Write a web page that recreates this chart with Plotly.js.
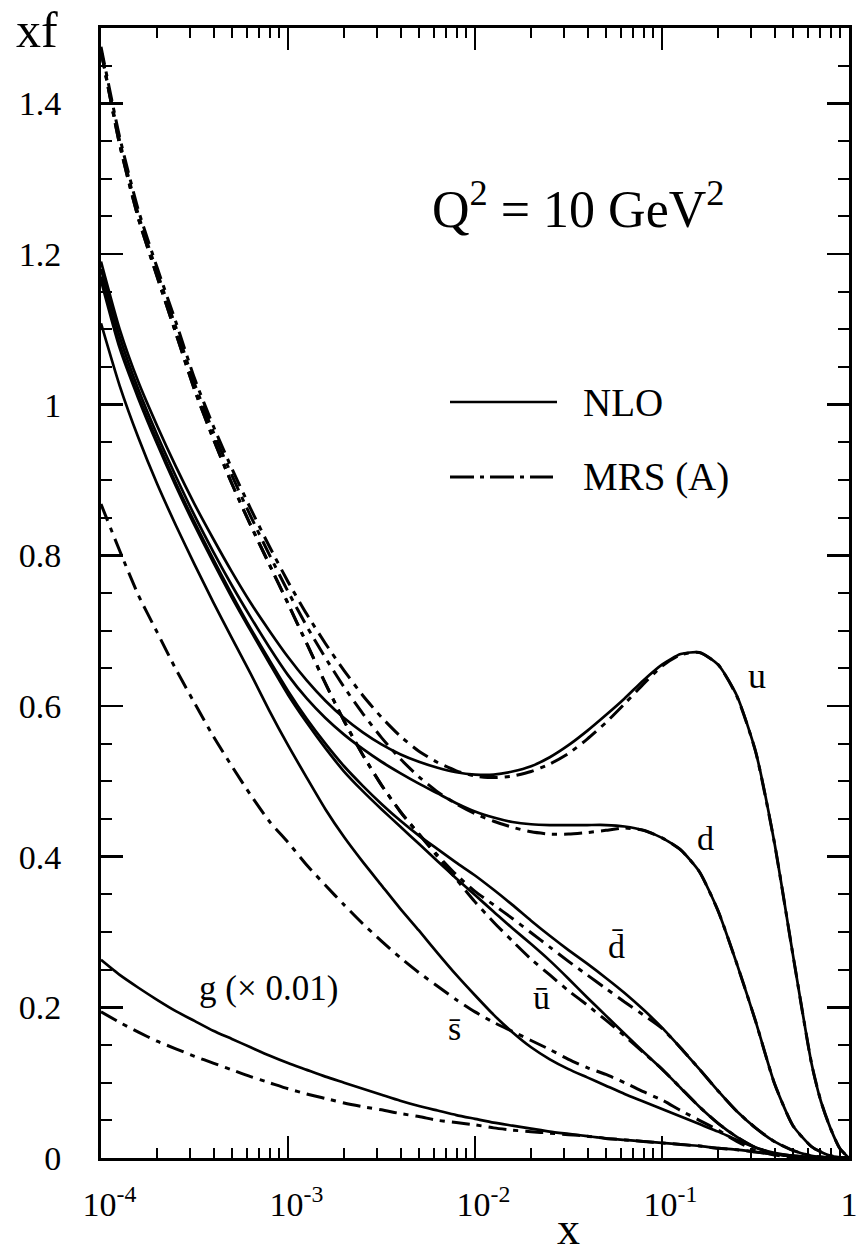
<!DOCTYPE html>
<html>
<head>
<meta charset="utf-8">
<script src="https://cdn.plot.ly/plotly-3.0.1.min.js"></script>
<style>html,body{margin:0;padding:0;background:#fff;}#chart{width:862px;height:1256px;}</style>
</head>
<body>
<div id="chart"></div>
<script>
// log10(x) grid shared by all curves
const LOG10_X = [-4,-3.9,-3.8,-3.7,-3.6,-3.5,-3.4,-3.3,-3.2,-3.1,-3.0,-2.9,-2.8,-2.7,-2.6,-2.5,-2.4,-2.3,-2.2,-2.1,-2.0,-1.9,-1.8,-1.7,-1.6,-1.5,-1.4,-1.3,-1.2,-1.1,-1.0,-0.9,-0.8,-0.7,-0.6,-0.5,-0.4,-0.3,-0.2,-0.15,-0.1,-0.05,0];

// NLO (solid)
const U_NLO    = [1.19,1.10,1.03,0.972,0.918,0.868,0.822,0.778,0.737,0.70,0.665,0.634,0.607,0.584,0.565,0.549,0.536,0.526,0.518,0.512,0.509,0.509,0.513,0.52,0.532,0.548,0.567,0.588,0.61,0.634,0.655,0.669,0.671,0.655,0.614,0.54,0.42,0.27,0.125,0.075,0.04,0.013,0];
const D_NLO    = [1.18,1.09,1.02,0.96,0.905,0.853,0.805,0.76,0.718,0.678,0.641,0.61,0.584,0.562,0.543,0.526,0.511,0.497,0.484,0.471,0.46,0.452,0.446,0.443,0.442,0.442,0.442,0.442,0.44,0.435,0.425,0.409,0.38,0.328,0.258,0.182,0.10,0.043,0.015,0.008,0.003,0.001,0];
const UBAR_NLO = [1.165,1.075,1.008,0.948,0.892,0.84,0.791,0.744,0.70,0.657,0.615,0.578,0.544,0.513,0.487,0.463,0.44,0.417,0.394,0.371,0.349,0.327,0.305,0.284,0.262,0.238,0.213,0.189,0.165,0.141,0.118,0.093,0.068,0.046,0.028,0.014,0.006,0.002,0.0005,0.0002,0,0,0];
const DBAR_NLO = [1.17,1.08,1.012,0.952,0.896,0.844,0.795,0.748,0.703,0.661,0.62,0.583,0.55,0.52,0.494,0.47,0.448,0.428,0.41,0.392,0.375,0.356,0.336,0.315,0.295,0.276,0.258,0.239,0.219,0.197,0.173,0.146,0.118,0.089,0.062,0.04,0.022,0.01,0.003,0.0015,0.0005,0,0];
const SBAR_NLO = [1.108,1.025,0.956,0.895,0.84,0.788,0.738,0.69,0.643,0.594,0.548,0.505,0.463,0.426,0.393,0.362,0.331,0.302,0.272,0.243,0.216,0.19,0.167,0.147,0.131,0.118,0.107,0.096,0.085,0.075,0.065,0.055,0.045,0.035,0.024,0.014,0.007,0.003,0.001,0,0,0,0];
const G_NLO    = [0.263,0.243,0.226,0.21,0.195,0.182,0.169,0.158,0.147,0.136,0.126,0.117,0.108,0.10,0.092,0.084,0.076,0.069,0.063,0.057,0.052,0.047,0.043,0.039,0.035,0.032,0.029,0.026,0.024,0.022,0.02,0.018,0.016,0.013,0.011,0.008,0.005,0.003,0.001,0.0005,0,0,0];

// MRS (A) (dash-dot)
const U_MRS    = [1.475,1.355,1.258,1.182,1.11,1.035,0.972,0.915,0.862,0.812,0.765,0.722,0.683,0.647,0.614,0.585,0.56,0.54,0.525,0.514,0.507,0.505,0.507,0.513,0.523,0.537,0.556,0.578,0.603,0.629,0.653,0.668,0.671,0.655,0.613,0.54,0.42,0.27,0.125,0.075,0.04,0.013,0];
const D_MRS    = [1.47,1.35,1.252,1.176,1.103,1.028,0.964,0.906,0.852,0.801,0.752,0.706,0.664,0.625,0.59,0.558,0.53,0.506,0.486,0.47,0.457,0.447,0.439,0.433,0.43,0.43,0.432,0.435,0.438,0.435,0.425,0.409,0.38,0.328,0.258,0.182,0.10,0.043,0.015,0.008,0.003,0.001,0];
const UBAR_MRS = [1.47,1.345,1.247,1.17,1.095,1.02,0.955,0.895,0.84,0.788,0.736,0.683,0.63,0.58,0.535,0.495,0.46,0.43,0.40,0.37,0.34,0.313,0.288,0.264,0.243,0.222,0.203,0.183,0.162,0.14,0.118,0.093,0.068,0.046,0.028,0.014,0.006,0.002,0.0005,0.0002,0,0,0];
const DBAR_MRS = [1.47,1.345,1.247,1.17,1.095,1.02,0.955,0.895,0.84,0.788,0.736,0.683,0.63,0.58,0.535,0.495,0.46,0.43,0.402,0.376,0.354,0.336,0.318,0.299,0.28,0.261,0.243,0.225,0.207,0.19,0.172,0.146,0.118,0.089,0.062,0.04,0.022,0.01,0.003,0.0015,0.0005,0,0];
const SBAR_MRS = [0.868,0.806,0.747,0.698,0.649,0.604,0.56,0.52,0.482,0.447,0.419,0.389,0.362,0.336,0.311,0.288,0.266,0.246,0.228,0.21,0.194,0.18,0.168,0.156,0.144,0.131,0.12,0.111,0.10,0.088,0.077,0.063,0.05,0.037,0.022,0.01,0.004,0.001,0,0,0,0,0];
const G_MRS    = [0.194,0.18,0.167,0.155,0.145,0.135,0.126,0.117,0.108,0.10,0.092,0.085,0.079,0.073,0.068,0.064,0.059,0.055,0.05,0.047,0.044,0.04,0.037,0.035,0.033,0.031,0.029,0.026,0.024,0.022,0.02,0.018,0.016,0.013,0.011,0.008,0.005,0.003,0.001,0.0005,0,0,0];

// axis ticks and labels
const X_TICKS = [1e-4, 1e-3, 1e-2, 1e-1, 1];
const X_TICKTEXT = ['\u200210<sup>-4</sup>','\u200210<sup>-3</sup>','\u200210<sup>-2</sup>','\u200210<sup>-1</sup>','1'];
const Y_TICKS = [0, 0.2, 0.4, 0.6, 0.8, 1, 1.2, 1.4];
const Y_TICKTEXT = ['0','0.2','0.4','0.6','0.8','1','1.2','1.4'];

const CURVE_LABELS = ['u','d','d\u0304','\u016b','s\u0304','g (\u00d7 0.01)'];
const LEGEND_LABELS = ['NLO','MRS (A)'];
const Q2_TEXT = 'Q<sup>2</sup> = 10 GeV<sup>2</sup>';

const FONT = 'Liberation Serif';
const X = LOG10_X.map(v => Math.pow(10, v));
const minorX = [];
for (let e = -4; e < 0; e++) for (let k = 2; k <= 9; k++) minorX.push(k * Math.pow(10, e));

const DASHDOT = '18px,7px,5px,7px';
function curve(y, dash) {
  return {x: X, y: y, type: 'scatter', mode: 'lines', hoverinfo: 'skip', showlegend: false,
          line: {color: '#000', width: dash === 'solid' ? 2.7 : 3, dash: dash, shape: 'spline', smoothing: 0.6}};
}
const data = [
  curve(U_NLO,'solid'), curve(D_NLO,'solid'), curve(UBAR_NLO,'solid'), curve(DBAR_NLO,'solid'), curve(SBAR_NLO,'solid'), curve(G_NLO,'solid'),
  curve(U_MRS,DASHDOT), curve(D_MRS,DASHDOT), curve(UBAR_MRS,DASHDOT), curve(DBAR_MRS,DASHDOT), curve(SBAR_MRS,DASHDOT), curve(G_MRS,DASHDOT)
];

// pixel helpers for decorations (plot area: left 101, right 849, top 28, bottom 1158)
const L = 101, R = 849, T = 28, B = 1158;
const px = p => (p - L) / (R - L);
const py = p => (B - p) / (B - T);

function ann(text, x, y, size, opts) {
  return Object.assign({text: text, x: px(x), y: py(y), xref: 'paper', yref: 'paper', showarrow: false,
    xanchor: 'center', yanchor: 'middle', font: {family: FONT, size: size, color: '#000'}}, opts || {});
}

const annotations = [
  ann('xf', 37, 30, 50),
  ann('x', 568, 1228, 46),
  ann(Q2_TEXT, 578, 206, 52),
  ann(LEGEND_LABELS[0], 581, 402, 39, {xanchor: 'left'}),
  ann(LEGEND_LABELS[1], 581, 477, 39, {xanchor: 'left'}),
  ann(CURVE_LABELS[0], 757, 676, 36),
  ann(CURVE_LABELS[1], 705, 838, 34),
  ann(CURVE_LABELS[2], 616, 946, 34),
  ann(CURVE_LABELS[3], 541, 997, 34),
  ann(CURVE_LABELS[4], 454, 1028, 34),
  ann(CURVE_LABELS[5], 268, 988, 35)
];

const shapes = [
  {type: 'line', xref: 'paper', yref: 'paper', x0: px(450), x1: px(557), y0: py(402), y1: py(402), line: {color: '#000', width: 2.7}},
  {type: 'line', xref: 'paper', yref: 'paper', x0: px(450), x1: px(553), y0: py(477), y1: py(477), line: {color: '#000', width: 3, dash: '24px,6px,4px,6px'}}
];

const axisCommon = {showline: true, linecolor: '#000', linewidth: 3, mirror: 'allticks', ticks: 'inside',
  tickcolor: '#000', tickwidth: 2.5, showgrid: false, zeroline: false,
  tickfont: {family: FONT, size: 34, color: '#000'}};

const layout = {
  width: 862, height: 1256,
  margin: {l: L, r: 862 - R, t: T, b: 1256 - B, pad: 0},
  paper_bgcolor: '#fff', plot_bgcolor: '#fff',
  showlegend: false,
  font: {family: FONT, color: '#000'},
  xaxis: Object.assign({}, axisCommon, {type: 'log', range: [-4, 0], tickmode: 'array', tickvals: X_TICKS, ticktext: X_TICKTEXT,
    ticklen: 22, ticklabelstandoff: 14,
    minor: {tickmode: 'array', tickvals: minorX, ticks: 'inside', ticklen: 10, tickwidth: 2, tickcolor: '#000', showgrid: false}}),
  yaxis: Object.assign({}, axisCommon, {range: [0, 1.5], tickmode: 'array', tickvals: Y_TICKS, ticktext: Y_TICKTEXT,
    ticklen: 22, ticklabelstandoff: 30,
    minor: {dtick: 0.05, ticks: 'inside', ticklen: 11, tickwidth: 2, tickcolor: '#000', showgrid: false}}),
  annotations: annotations,
  shapes: shapes
};

Plotly.newPlot('chart', data, layout, {staticPlot: true, displayModeBar: false});
</script>
</body>
</html>
